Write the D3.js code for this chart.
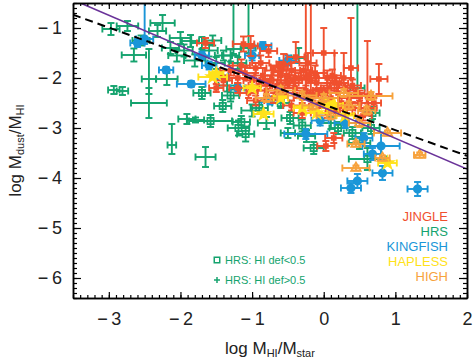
<!DOCTYPE html>
<meta charset="utf-8">
<head>
  <style>
    body { margin: 0; background: #fff; }
    text { font-family: "Liberation Sans", Helvetica, Arial, sans-serif; }
  </style>
</head>
<body>
<div class="chart"></div>
<script src="https://d3js.org/d3.v7.min.js"></script>
<script>
// each point: [x, y, xerr, yerr down, yerr up]
var jingle = [
  [-1.65,-1.3,0.12,0.1,0.1], [-1.12,-1.32,0.15,0.15,0.15], [-1.02,-1.36,0.1,0.2,0.2],
  [-0.77,-1.46,0.12,0.12,0.12], [0.0,-1.5,0.15,0.4,0.5], [-0.39,-1.58,0.12,0.1,0.3],
  [-0.56,-1.72,0.1,0.1,0.2], [-0.22,-1.7,0.12,0.15,0.2], [0.38,-1.8,0.1,0.2,1.0],
  [0.77,-2.02,0.12,0.3,0.3], [0.61,-2.36,0.08,0.15,1.1], [-0.25,-2.0,0.06,0.3,1.6],
  [-0.18,-2.05,0.06,0.3,1.6], [0.28,-2.0,0.1,0.2,0.5], [0.15,-2.1,0.1,0.15,0.6],
  [-1.3,-1.85,0.15,0.1,0.1], [-1.2,-2.0,0.12,0.1,0.1], [-1.1,-1.9,0.15,0.12,0.12],
  [-1.0,-2.05,0.12,0.1,0.1], [-0.95,-1.8,0.15,0.1,0.1], [-0.9,-2.15,0.15,0.1,0.1],
  [-0.85,-1.95,0.12,0.1,0.15], [-0.8,-2.25,0.12,0.1,0.1], [-0.75,-2.05,0.15,0.1,0.1],
  [-0.7,-1.85,0.12,0.1,0.1], [-0.65,-2.15,0.15,0.12,0.12], [-0.6,-1.95,0.12,0.1,0.1],
  [-0.55,-2.3,0.12,0.1,0.1], [-0.5,-2.1,0.15,0.1,0.1], [-0.45,-1.85,0.12,0.1,0.15],
  [-0.4,-2.2,0.15,0.1,0.1], [-0.35,-2.0,0.12,0.1,0.1], [-0.3,-2.4,0.12,0.1,0.1],
  [-0.25,-2.25,0.15,0.1,0.1], [-0.2,-1.95,0.12,0.1,0.1], [-0.15,-2.35,0.12,0.1,0.1],
  [-0.1,-2.1,0.15,0.12,0.12], [-0.05,-2.5,0.12,0.1,0.1], [0.0,-2.25,0.15,0.1,0.1],
  [0.05,-2.0,0.12,0.1,0.15], [0.1,-2.4,0.12,0.1,0.1], [0.15,-2.6,0.12,0.1,0.1],
  [0.2,-2.3,0.15,0.1,0.1], [0.25,-2.5,0.12,0.1,0.1], [0.3,-2.2,0.12,0.1,0.1],
  [0.35,-2.4,0.15,0.1,0.1], [0.4,-2.6,0.12,0.12,0.12], [0.45,-2.3,0.12,0.1,0.1],
  [0.5,-2.5,0.12,0.1,0.1], [0.55,-2.75,0.12,0.1,0.1], [-0.7,-2.4,0.12,0.1,0.1],
  [-1.05,-2.3,0.12,0.1,0.1], [-0.45,-2.55,0.12,0.1,0.1], [0.05,-2.7,0.12,0.1,0.1],
  [-1.4,-2.05,0.12,0.1,0.1], [0.03,-3.36,0.12,0.1,0.1], [0.14,-3.2,0.12,0.1,0.1],
  [0.7,-2.5,0.1,0.1,0.1], [-0.95,-2.45,0.12,0.1,0.1], [-1.5,-2.2,0.1,0.08,0.08],
  [-0.3,-2.7,0.12,0.1,0.1],
  [-1.15,-1.75,0.12,0.12,0.12], [-0.88,-1.7,0.12,0.1,0.15], [-0.62,-1.78,0.12,0.1,0.1],
  [-0.42,-2.05,0.12,0.1,0.1], [-0.28,-1.85,0.12,0.1,0.1], [-0.12,-1.9,0.12,0.1,0.15],
  [0.08,-2.2,0.12,0.1,0.1], [0.22,-2.1,0.12,0.1,0.1], [0.4,-2.15,0.12,0.1,0.12],
  [0.5,-2.35,0.12,0.1,0.1], [0.32,-2.6,0.12,0.1,0.1], [-0.18,-2.55,0.12,0.1,0.1],
  [-0.6,-2.15,0.12,0.1,0.1], [-0.82,-2.05,0.12,0.1,0.1], [-1.2,-2.2,0.12,0.1,0.1],
  [-0.08,-2.3,0.12,0.1,0.1], [0.2,-2.65,0.12,0.1,0.1], [0.62,-2.6,0.12,0.1,0.1],
  [-0.52,-1.95,0.12,0.1,0.1], [0.12,-1.95,0.12,0.1,0.12]
];
var hrsLow = [   // HI def < 0.5 (squares)
  [-1.58,-2.86,0.3,0.12,0.12], [-1.41,-2.56,0.12,0.12,0.12], [-1.19,-3.0,0.15,0.15,0.15],
  [-1.09,-3.12,0.12,0.15,0.15], [-1.15,-2.88,0.12,0.12,0.12], [-0.47,-2.8,0.12,0.12,0.12],
  [-0.14,-3.4,0.14,0.12,0.12], [0.61,-3.62,0.26,0.22,0.22], [0.68,-2.7,0.1,0.12,0.12],
  [0.66,-3.0,0.12,0.12,0.15], [-0.9,-2.6,0.12,0.12,0.12], [-0.6,-2.5,0.12,0.1,0.1],
  [-1.3,-2.35,0.12,0.12,0.12], [0.2,-3.0,0.12,0.12,0.12], [0.4,-3.1,0.12,0.12,0.12],
  [-0.3,-2.95,0.12,0.12,0.12], [-1.7,-2.3,0.12,0.12,0.12]
];
var hrsHigh = [  // HI def > 0.5 (plus)
  [-2.97,-1.02,0.12,0.12,0.12], [-2.74,-0.96,0.15,0.1,0.1], [-2.25,-0.9,0.17,0.16,0.16],
  [-2.32,-1.06,0.12,0.12,0.12], [-2.0,-1.2,0.15,0.12,0.12], [-1.86,-1.26,0.12,0.12,0.12],
  [-2.14,-1.4,0.12,0.12,0.12], [-2.65,-1.54,0.17,0.13,0.13], [-2.44,-2.02,0.1,0.3,0.6],
  [-2.44,-2.5,0.25,0.3,0.3], [-2.93,-2.24,0.08,0.08,0.08], [-2.81,-2.26,0.08,0.08,0.08],
  [-2.19,-2.02,0.15,0.12,0.12], [-1.91,-2.82,0.12,0.1,0.1], [-1.79,-2.84,0.12,0.05,0.05],
  [-2.12,-3.34,0.06,0.18,0.42], [-1.65,-3.58,0.14,0.2,0.2], [-1.26,-1.42,0.1,0.1,2.0],
  [-1.05,-1.4,0.1,0.1,2.0], [0.47,-2.2,0.1,0.15,2.0], [-0.24,-3.16,0.12,0.12,0.12],
  [-1.6,-1.45,0.12,0.12,0.12], [-1.4,-1.55,0.12,0.1,0.1], [-1.7,-1.3,0.15,0.12,0.12],
  [-1.5,-1.7,0.12,0.12,0.12], [-1.2,-1.7,0.12,0.12,0.12], [-0.35,-1.6,0.1,0.1,0.2],
  [-1.0,-2.65,0.15,0.12,0.12], [-0.8,-2.9,0.12,0.12,0.12], [-0.5,-3.1,0.1,0.1,0.1],
  [0.1,-2.9,0.15,0.12,0.12], [0.5,-3.3,0.15,0.12,0.12], [-1.35,-2.15,0.12,0.12,0.12],
  [-2.55,-1.25,0.12,0.1,0.1], [-2.05,-1.55,0.12,0.12,0.12], [-1.8,-1.65,0.15,0.12,0.12],
  [-1.95,-1.45,0.12,0.12,0.12], [-1.55,-1.25,0.12,0.1,0.1], [-1.3,-1.55,0.12,0.12,0.12]
];
var kingfish = [
  [-2.2,-1.84,0.1,0.06,0.06], [-1.85,-2.12,0.2,0.06,0.06], [-2.5,-1.22,0.12,0.1,1.0],
  [-2.6,-1.3,0.1,0.08,0.08], [-0.85,-1.36,0.12,0.08,0.08], [-1.7,-1.55,0.1,0.08,0.08],
  [-1.6,-1.75,0.1,0.08,0.08], [-1.45,-1.95,0.12,0.08,0.08], [-1.0,-1.55,0.1,0.1,0.1],
  [-0.5,-1.65,0.12,0.1,0.1], [-1.2,-2.2,0.1,0.08,0.08], [-0.75,-2.45,0.12,0.08,0.08],
  [-0.25,-3.12,0.3,0.1,0.1], [0.3,-2.9,0.15,0.1,0.1], [0.56,-3.2,0.12,0.1,0.1],
  [0.8,-3.36,0.26,0.27,0.27], [0.68,-3.52,0.12,0.12,0.12], [0.82,-3.9,0.14,0.14,0.14],
  [0.47,-4.06,0.14,0.14,0.14], [0.38,-4.2,0.14,0.1,0.1], [1.31,-4.22,0.14,0.14,0.14],
  [-0.05,-2.85,0.12,0.1,0.1]
];
var hapless = [
  [-1.55,-1.98,0.2,0.05,0.05], [-1.5,-1.92,0.1,0.05,0.05], [-0.84,-2.72,0.14,0.05,0.05],
  [0.03,-2.5,0.1,0.08,0.08], [0.89,-3.7,0.13,0.05,0.05], [-0.3,-2.6,0.12,0.05,0.05],
  [-0.1,-2.7,0.15,0.05,0.05], [0.3,-2.75,0.12,0.05,0.05], [-0.6,-2.4,0.1,0.05,0.05],
  [0.15,-2.55,0.12,0.05,0.05], [-1.0,-2.2,0.12,0.05,0.05]
];
var high = [
  [1.34,-3.54,0.08,0.05,0.05], [0.82,-3.6,0.1,0.05,0.05], [0.45,-3.8,0.19,0.05,0.05],
  [0.45,-3.32,0.12,0.05,0.05], [0.89,-3.1,0.19,0.05,0.05], [0.66,-2.36,0.3,0.08,0.08],
  [0.28,-2.3,0.2,0.08,0.08], [0.0,-2.4,0.2,0.08,0.08], [-0.3,-2.35,0.2,0.08,0.08],
  [-0.6,-2.25,0.2,0.08,0.08], [-0.8,-2.4,0.15,0.08,0.08], [0.1,-2.75,0.2,0.08,0.08],
  [0.5,-2.9,0.15,0.08,0.08], [-0.15,-2.55,0.15,0.08,0.08], [0.35,-2.55,0.15,0.08,0.08],
  [0.6,-2.65,0.12,0.08,0.08]
];
var xMajor = [-3, -2, -1, 0, 1, 2];
var yMajor = [-6, -5, -4, -3, -2, -1];
var legendNames = ["JINGLE", "HRS", "KINGFISH", "HAPLESS", "HIGH"];
var legendColors = ["#f0502e", "#14a36e", "#1a96d8", "#ffe21a", "#f7a23c"];
// fit lines: [intercept, slope]
var fitSolid = [-2.59, -0.615];
var fitDashed = [-2.53, -0.513];

var W = 474, H = 363;
var L = 73, R = 467, T = 3, B = 298;
var x = d3.scaleLinear().domain([-3.5, 2]).range([L, R]);
var y = d3.scaleLinear().domain([-6.4, -0.5]).range([B, T]);

var svg = d3.select(".chart").append("svg").attr("width", W).attr("height", H);

svg.append("defs").append("clipPath").attr("id", "clip")
  .append("rect").attr("x", L).attr("y", T).attr("width", R - L).attr("height", B - T);

var plot = svg.append("g").attr("clip-path", "url(#clip)");
var col = {};
legendNames.forEach(function(n, i) { col[n] = legendColors[i]; });

function errorBars(data, color) {
  var g = plot.append("g").attr("stroke", color).attr("stroke-width", 1.9).attr("fill", "none");
  var cap = 3.5;
  data.forEach(function(d) {
    var cx = x(d[0]), cy = y(d[1]);
    var x0 = x(d[0] - d[2]), x1 = x(d[0] + d[2]);
    var y0 = y(d[1] - d[3]), y1 = y(d[1] + d[4]);
    g.append("line").attr("x1", x0).attr("x2", x1).attr("y1", cy).attr("y2", cy);
    g.append("line").attr("x1", cx).attr("x2", cx).attr("y1", y0).attr("y2", y1);
    g.append("line").attr("x1", x0).attr("x2", x0).attr("y1", cy - cap).attr("y2", cy + cap);
    g.append("line").attr("x1", x1).attr("x2", x1).attr("y1", cy - cap).attr("y2", cy + cap);
    g.append("line").attr("x1", cx - cap).attr("x2", cx + cap).attr("y1", y0).attr("y2", y0);
    g.append("line").attr("x1", cx - cap).attr("x2", cx + cap).attr("y1", y1).attr("y2", y1);
  });
  return g;
}

function markers(data, type, size, color, filled) {
  plot.append("g").selectAll("path").data(data).enter().append("path")
    .attr("transform", function(d) { return "translate(" + x(d[0]) + "," + y(d[1]) + ")"; })
    .attr("d", d3.symbol().type(type).size(size))
    .attr("fill", filled ? color : "none")
    .attr("stroke", color)
    .attr("stroke-width", 1.7);
}

errorBars(hrsHigh, col.HRS);
errorBars(hrsLow, col.HRS);
markers(hrsLow, d3.symbolSquare, 40, col.HRS, false);
errorBars(kingfish, col.KINGFISH);
markers(kingfish, d3.symbolCircle, 44, col.KINGFISH, true);
errorBars(jingle, col.JINGLE);
markers(jingle, d3.symbolSquare, 16, col.JINGLE, true);
errorBars(hapless, col.HAPLESS);
markers(hapless, d3.symbolStar, 44, col.HAPLESS, true);
errorBars(high, col.HIGH);
markers(high, d3.symbolTriangle, 40, col.HIGH, false);

// fit lines
function fitLine(f) {
  return [[-3.5, f[0] + f[1] * -3.5], [2, f[0] + f[1] * 2]];
}
var line = d3.line().x(function(d) { return x(d[0]); }).y(function(d) { return y(d[1]); });
plot.append("path").attr("d", line(fitLine(fitSolid)))
  .attr("stroke", "#6a3399").attr("stroke-width", 1.6).attr("fill", "none");
plot.append("path").attr("d", line(fitLine(fitDashed)))
  .attr("stroke", "#000").attr("stroke-width", 2).attr("stroke-dasharray", "8,5").attr("fill", "none");

// axes
var fmt = function(d) { return d < 0 ? "\u2212\u2009" + (-d) : String(d); };
var xMinor = d3.range(-35, 21).map(function(d) { return d / 10; });
var yMinor = d3.range(-64, -4).map(function(d) { return d / 10; });

function addAxis(axis, tx, ty) {
  var g = svg.append("g").attr("transform", "translate(" + tx + "," + ty + ")").call(axis);
  g.select(".domain").attr("stroke-width", 1.5);
  g.selectAll(".tick line").attr("stroke-width", 1.2);
  return g;
}
var gx = addAxis(d3.axisBottom(x).tickValues(xMajor).tickSize(-6).tickSizeOuter(0).tickPadding(14).tickFormat(fmt), 0, B);
addAxis(d3.axisBottom(x).tickValues(xMinor).tickSize(-3).tickSizeOuter(0).tickFormat(""), 0, B);
addAxis(d3.axisTop(x).tickValues(xMajor).tickSize(-6).tickSizeOuter(0).tickFormat(""), 0, T);
addAxis(d3.axisTop(x).tickValues(xMinor).tickSize(-3).tickSizeOuter(0).tickFormat(""), 0, T);
var gy = addAxis(d3.axisLeft(y).tickValues(yMajor).tickSize(-8).tickSizeOuter(0).tickPadding(11).tickFormat(fmt), L, 0);
addAxis(d3.axisLeft(y).tickValues(yMinor).tickSize(-4).tickSizeOuter(0).tickFormat(""), L, 0);
addAxis(d3.axisRight(y).tickValues(yMajor).tickSize(-8).tickSizeOuter(0).tickFormat(""), R, 0);
addAxis(d3.axisRight(y).tickValues(yMinor).tickSize(-4).tickSizeOuter(0).tickFormat(""), R, 0);

gx.selectAll(".tick text").attr("font-size", 18).attr("font-family", "Liberation Sans, Arial, sans-serif").attr("fill", "#222");
gy.selectAll(".tick text").attr("font-size", 18).attr("font-family", "Liberation Sans, Arial, sans-serif").attr("fill", "#222");

// axis titles
var xt = svg.append("text").attr("x", (L + R) / 2).attr("y", 354)
  .attr("text-anchor", "middle").attr("font-size", 17).attr("fill", "#222");
xt.append("tspan").text("log  M");
xt.append("tspan").attr("font-size", 11).attr("baseline-shift", "-25%").text("HI");
xt.append("tspan").text("/M");
xt.append("tspan").attr("font-size", 11).attr("baseline-shift", "-25%").text("star");

var yt = svg.append("text").attr("transform", "translate(21," + ((T + B) / 2) + ") rotate(-90)")
  .attr("text-anchor", "middle").attr("font-size", 17).attr("fill", "#222");
yt.append("tspan").text("log  M");
yt.append("tspan").attr("font-size", 11).attr("baseline-shift", "-25%").text("dust");
yt.append("tspan").text("/M");
yt.append("tspan").attr("font-size", 11).attr("baseline-shift", "-25%").text("HI");

// legend
svg.append("g").selectAll("text").data(legendNames).enter().append("text")
  .attr("x", 448).attr("y", function(d, i) { return 216 + i * 15.2; })
  .attr("dy", "0.35em").attr("text-anchor", "end").attr("font-size", 13)
  .attr("fill", function(d, i) { return legendColors[i]; })
  .text(function(d) { return d; });

var hl = svg.append("g");
hl.append("path").attr("transform", "translate(217,260)")
  .attr("d", d3.symbol().type(d3.symbolSquare).size(30))
  .attr("fill", "none").attr("stroke", col.HRS).attr("stroke-width", 1.5);
hl.append("line").attr("x1", 214).attr("x2", 220).attr("y1", 280).attr("y2", 280).attr("stroke", col.HRS).attr("stroke-width", 1.5);
hl.append("line").attr("x1", 217).attr("x2", 217).attr("y1", 277).attr("y2", 283).attr("stroke", col.HRS).attr("stroke-width", 1.5);
hl.append("text").attr("x", 225).attr("y", 260).attr("dy", "0.35em").attr("font-size", 11)
  .attr("fill", col.HRS).text("HRS:  HI  def<0.5");
hl.append("text").attr("x", 225).attr("y", 280).attr("dy", "0.35em").attr("font-size", 11)
  .attr("fill", col.HRS).text("HRS:  HI  def>0.5");
</script>
</body>
